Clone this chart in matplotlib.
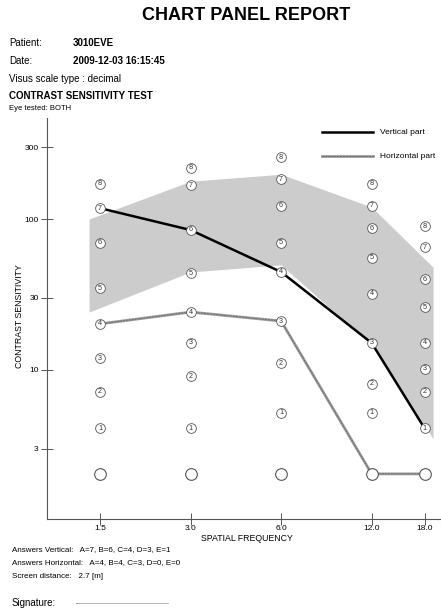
import matplotlib
matplotlib.use('Agg')
import matplotlib.pyplot as plt
import numpy as np

plt.rcParams['font.family'] = ['Liberation Sans', 'DejaVu Sans']

# spatial frequencies (cycles/deg) and the letter rows
freqs = [1.5, 3.0, 6.0, 12.0, 18.0]
freq_labels = ['1.5', '3.0', '6.0', '12.0', '18.0']

# contrast sensitivity of patches 1..8 for each frequency
patch_levels = [
    [4.1, 7.2, 12.0, 20.2, 34.9, 69.4, 118, 171],
    [4.1, 9.1, 15.1, 24.2, 43.9, 84.6, 168, 218],
    [5.2, 11.1, 21.1, 44.6, 69.4, 122, 184, 257],
    [5.2, 8.1, 15.1, 31.9, 55.2, 87.2, 122, 171],
    [4.1, 7.2, 10.2, 15.1, 26.1, 40.0, 65.2, 89.9],
]
blank_level = 2.05

# answers (0 = blank)
answers_vertical = [7, 6, 4, 3, 1]
answers_horizontal = [4, 4, 3, 0, 0]

# normal range band
band_freq = [1.38, 3.0, 6.0, 12.0, 19.2]
band_upper = [100, 178, 198, 120, 48]
band_lower = [24.2, 44.6, 49.7, 14.6, 3.5]


def level_value(i, ans):
    return blank_level if ans == 0 else patch_levels[i][ans - 1]


W, H = 441, 614
fig = plt.figure(figsize=(W / 100, H / 100), dpi=100)


def px(x, y):
    return x / W, 1 - y / H


ax = fig.add_axes([47 / W, 1 - 519 / H, 394 / W, 401 / H])
ax.set_xscale('log', base=2)
ax.set_yscale('log')
ax.set_xlim(1.0, 20.4)
ax.set_ylim(1.03, 467)

ax.fill_between(band_freq, band_lower, band_upper, color='#cccccc', lw=0, zorder=1)

yv = [level_value(i, a) for i, a in enumerate(answers_vertical)]
yh = [level_value(i, a) for i, a in enumerate(answers_horizontal)]
ax.plot(freqs, yv, color='black', lw=1.8, zorder=3)
ax.plot(freqs, yh, color='#9a9a9a', lw=2.0, zorder=3)
ax.plot(freqs, yh, color='#6e6e6e', lw=0.7, ls=(0, (2, 1)), zorder=3)

for i, f in enumerate(freqs):
    ax.plot(f, blank_level, 'o', ms=8.4, mfc='white', mec='#555555', mew=0.8, zorder=5)
    for k, v in enumerate(patch_levels[i]):
        ax.plot(f, v, 'o', ms=7.0, mfc='white', mec='#555555', mew=0.6, zorder=5)
        ax.text(f, v, str(k + 1), ha='center', va='center', fontsize=5.2,
                color='#333333', zorder=6)

ax.spines['top'].set_visible(False)
ax.spines['right'].set_visible(False)
for s in ['left', 'bottom']:
    ax.spines[s].set_color('#555555')
    ax.spines[s].set_linewidth(0.8)

ax.set_xticks(freqs)
ax.set_xticklabels(freq_labels)
ax.xaxis.set_minor_locator(matplotlib.ticker.NullLocator())
ax.set_yticks([3, 10, 30, 100, 300])
ax.set_yticklabels(['3', '10', '30', '100', '300'])
ax.yaxis.set_minor_locator(matplotlib.ticker.NullLocator())
ax.tick_params(direction='inout', length=8, width=0.7, color='#555555',
               labelsize=6, pad=2)
ax.tick_params(axis='x', pad=0.5)

ax.set_xlabel('SPATIAL FREQUENCY', fontsize=6.3, va='center')
ax.xaxis.set_label_coords((247 - 47) / 394, (519 - 538.5) / 401)
ax.set_ylabel('CONTRAST SENSITIVITY', fontsize=6.3, va='center')
ax.yaxis.set_label_coords((20 - 47) / 394, (519 - 316) / 401)

# legend
ax.plot([0.698, 0.827], [0.965, 0.965], color='black', lw=1.8,
        transform=ax.transAxes, clip_on=False)
ax.plot([0.698, 0.827], [0.905, 0.905], color='#9a9a9a', lw=2.0,
        transform=ax.transAxes, clip_on=False)
ax.plot([0.698, 0.827], [0.905, 0.905], color='#6e6e6e', lw=0.7, ls=(0, (2, 1)),
        transform=ax.transAxes, clip_on=False)
ax.text(0.845, 0.965, 'Vertical part', fontsize=6, va='center', transform=ax.transAxes)
ax.text(0.845, 0.905, 'Horizontal part', fontsize=6, va='center', transform=ax.transAxes)

# header
fig.text(*px(246, 16), 'CHART PANEL REPORT', fontsize=13, fontweight='bold',
         ha='center', va='center')
fig.text(*px(9, 43), 'Patient:', fontsize=7, va='center')
fig.text(*px(73, 43), '3010EVE', fontsize=7, fontweight='bold', va='center')
fig.text(*px(9, 61), 'Date:', fontsize=7, va='center')
fig.text(*px(73, 61), '2009-12-03 16:15:45', fontsize=7, fontweight='bold', va='center')
fig.text(*px(9, 79), 'Visus scale type : decimal', fontsize=7, va='center')
fig.text(*px(9, 96), 'CONTRAST SENSITIVITY TEST', fontsize=7, fontweight='bold', va='center')
fig.text(*px(9, 108), 'Eye tested: BOTH', fontsize=5.5, va='center')

# footer
fig.text(*px(12, 550), 'Answers Vertical:   A=7, B=6, C=4, D=3, E=1', fontsize=5.8, va='center')
fig.text(*px(12, 563), 'Answers Horizontal:   A=4, B=4, C=3, D=0, E=0', fontsize=5.8, va='center')
fig.text(*px(12, 576), 'Screen distance:   2.7 [m]', fontsize=5.8, va='center')
fig.text(*px(12, 603), 'Signature:', fontsize=7, va='center')
fig.text(*px(75, 603), '.' * 47, fontsize=5, va='center')

fig.savefig('out.png', dpi=100)
